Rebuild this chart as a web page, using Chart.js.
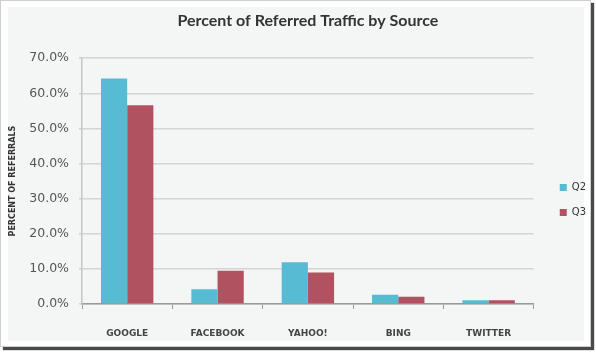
<!DOCTYPE html>
<html>
<head>
<meta charset="utf-8">
<script src="https://cdn.jsdelivr.net/npm/chart.js@4/dist/chart.umd.min.js"></script>
<style>
  body { margin: 0; background: #fff; }
  #frame {
    position: absolute; left: 0; top: 0;
    width: 589px; height: 345px;
    border: 1px solid #cfcfcf;
    background: #fff;
    box-shadow: 3px 3px 1px #4a4a4a;
  }
  #panel {
    position: absolute; left: 8px; top: 7px;
    width: 576px; height: 334px;
    background: #f4f5f5;
  }
  #wrap { position: absolute; left: 0; top: 0; width: 596px; height: 354px; }
</style>
</head>
<body>
<div id="frame"></div>
<div id="panel"></div>
<div id="wrap"><canvas id="chart" width="596" height="354"></canvas></div>
<script>
var sources = ['GOOGLE', 'FACEBOOK', 'YAHOO!', 'BING', 'TWITTER'];
var q2Values = [64.2, 4.2, 11.9, 2.6, 1.1];
var q3Values = [56.6, 9.5, 9.0, 2.1, 1.1];
var seriesNames = ['Q2', 'Q3'];
var yTickMax = 70;
var yTickStep = 10;

var ctx = document.getElementById('chart').getContext('2d');
var myBarChart = new Chart(ctx, {
    type: 'bar',
    data: {
        labels: sources,
        datasets: [{
            label: seriesNames[0],
            backgroundColor: '#57bbd4',
            data: q2Values
        }, {
            label: seriesNames[1],
            backgroundColor: '#b0525f',
            data: q3Values
        }]
    },
    options: {
        responsive: false,
        animation: false,
        categoryPercentage: 0.58,
        barPercentage: 1.0,
        layout: { padding: { left: 4, right: 0, top: 0, bottom: 10 } },
        plugins: {
            title: {
                display: true,
                fullSize: false,
                text: 'Percent of Referred Traffic by Source',
                color: '#333',
                font: { family: 'Lato', size: 16, weight: 'bold' },
                padding: { top: 11, bottom: 28 }
            },
            legend: {
                position: 'right',
                title: { display: true, text: ' ', padding: 22, font: { size: 10 } },
                labels: {
                    boxWidth: 7,
                    boxHeight: 7,
                    padding: 15,
                    color: '#333',
                    font: { family: 'DejaVu Sans', size: 10 }
                }
            },
            tooltip: { enabled: false }
        },
        scales: {
            x: {
                grid: {
                    offset: true,
                    drawOnChartArea: false,
                    tickLength: 5,
                    color: '#9a9a9a',
                    lineWidth: 1
                },
                border: { color: '#9a9a9a', width: 1.5 },
                ticks: {
                    padding: 19,
                    color: '#444',
                    font: { family: 'DejaVu Sans', size: 9, weight: 'bold' }
                },
                afterFit: function(scale) { scale.height = 40; }
            },
            y: {
                min: 0,
                max: yTickMax,
                grid: { color: '#d4d4d4', lineWidth: 1.5, tickLength: 3 },
                border: { color: '#c4c4c4', width: 1.5 },
                ticks: {
                    stepSize: yTickStep,
                    padding: 10,
                    color: '#555',
                    font: { family: 'DejaVu Sans', size: 12.5 },
                    callback: function(v) { return v.toFixed(1) + '%'; }
                },
                title: {
                    display: true,
                    text: 'PERCENT OF REFERRALS',
                    color: '#333',
                    font: { family: 'DejaVu Sans', size: 8, weight: 'bold' },
                    padding: { top: 4, bottom: 0 }
                },
                afterFit: function(scale) { scale.width = 78; }
            },
            // empty axis, only keeps a small gap between plot and legend
            gap: {
                type: 'linear',
                position: 'right',
                grid: { drawOnChartArea: false, drawTicks: false },
                border: { display: false },
                ticks: { display: false },
                afterFit: function(scale) { scale.width = 11; }
            }
        }
    }
});
</script>
</body>
</html>
